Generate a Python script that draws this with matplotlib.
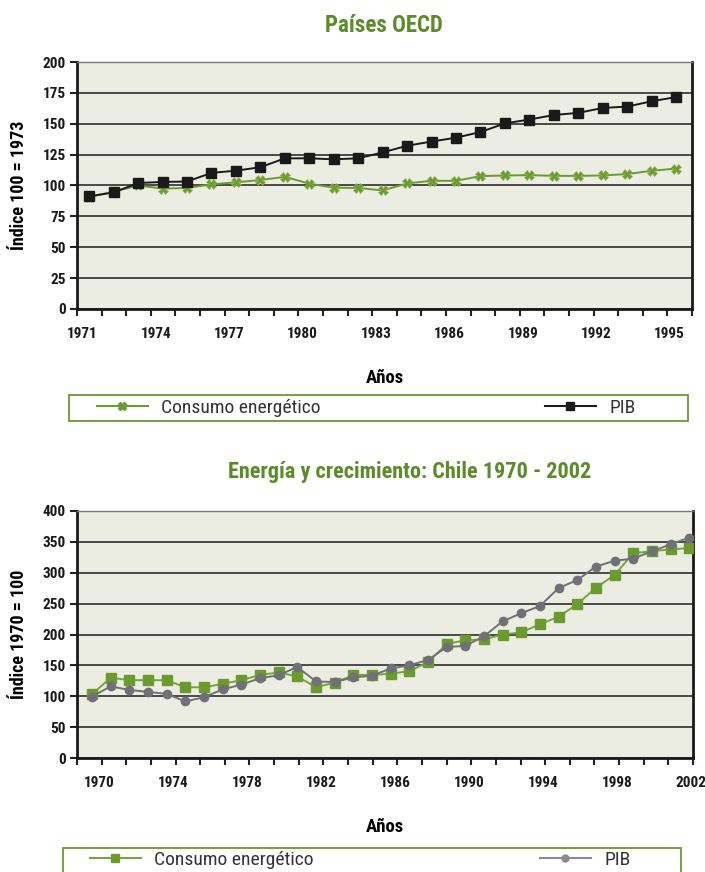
import matplotlib
matplotlib.use('Agg')
import matplotlib.pyplot as plt
import numpy as np
from matplotlib import font_manager
from matplotlib.patches import Rectangle
from matplotlib.lines import Line2D

# Países OECD (índice 100 = 1973)
oecd_years = list(range(1971, 1996))
oecd_consumo = [90.7, 95, 100, 97.5, 98, 100.9, 102.6, 104.4, 107, 101.5, 98.2, 98, 96,
                101.7, 103.8, 103.8, 107.6, 108.1, 108.4, 107.8, 107.8, 108.1, 109.3, 111.9, 113.7]
oecd_pib = [91.2, 94.4, 102, 102.9, 103.2, 110.2, 112, 114.8, 122, 122, 121.2, 122, 126.8,
            132.2, 135.6, 138.7, 143.3, 150.3, 153.4, 157.1, 158.8, 162.8, 163.9, 168.2, 171.6]
oecd_labels = [1971, 1974, 1977, 1980, 1983, 1986, 1989, 1992, 1995]

# Chile 1970 - 2002 (índice 1970 = 100)
chile_years = list(range(1970, 2003))
chile_consumo = [103, 130, 126, 126, 126, 114.5, 114.5, 120, 126, 134.5,
                 138.5, 132, 114.7, 121.8, 134.5, 134.5, 136.5, 140.7, 155, 184.5,
                 190.8, 192, 200, 203.4, 216.7, 228.7, 249, 275.8, 296.4, 331.8,
                 334.7, 338, 339.8]
chile_pib = [99.5, 116, 110.3, 107, 104, 91.5, 98.5, 111, 118.8, 129.2,
             134, 147.5, 124, 123, 130.5, 133.3, 145, 150, 158.7, 179.6,
             181.6, 197, 221.3, 234.5, 246, 275.3, 288.1, 310, 319.5, 322.9,
             334.7, 346, 357]
chile_labels = [1970, 1974, 1978, 1982, 1986, 1990, 1994, 1998, 2002]

GREEN = '#6b9a2f'
TITLE_GREEN = '#5c8c2a'
BG = '#ecede2'

# pick a narrow face if one is installed, otherwise shrink the text a little
installed = {f.name for f in font_manager.fontManager.ttflist}
narrow = [n for n in ['Liberation Sans Narrow', 'DejaVu Sans Condensed', 'Roboto Condensed']
          if n in installed]
if narrow:
    plt.rcParams['font.family'] = [narrow[0], 'DejaVu Sans']
    k = 1.0
else:
    plt.rcParams['font.family'] = ['DejaVu Sans']
    k = 0.84

fig = plt.figure(figsize=(7.05, 8.72), dpi=100)
W, H = 705, 872


def px_axes(left, top, right, bottom):
    return fig.add_axes([left / W, 1 - bottom / H, (right - left) / W, (bottom - top) / H])


def style_axes(ax, xlim, ymax, ystep, labels, label_pos, ylabel):
    ax.set_facecolor(BG)
    ax.set_xlim(*xlim)
    ax.set_ylim(0, ymax)
    ax.set_yticks(np.arange(0, ymax + 1, ystep))
    ax.grid(axis='y', color='#2e2e2e', linewidth=1.2, zorder=0)
    ax.set_axisbelow(True)
    # tick marks: 25 equal intervals along the category axis
    ax.set_xticks(np.linspace(xlim[0], xlim[1], 26))
    ax.set_xticklabels([])
    ax.set_xticks(label_pos, minor=True)
    ax.set_xticklabels([str(y) for y in labels], minor=True)
    ax.tick_params(axis='x', which='major', direction='out', length=5, width=1.5, color='#222222')
    ax.tick_params(axis='x', which='minor', length=0, pad=13, labelsize=11 * k)
    ax.tick_params(axis='y', direction='out', length=5, width=1.5, color='#222222',
                   labelsize=11 * k, pad=3)
    for lab in ax.get_xticklabels(minor=True) + ax.get_yticklabels():
        lab.set_fontweight('bold')
        lab.set_color('#1a1a1a')
    for side in ['left', 'bottom', 'right']:
        ax.spines[side].set_linewidth(2)
        ax.spines[side].set_color('#1a1a1a')
    ax.spines['top'].set_linewidth(1)
    ax.spines['top'].set_color('#777777')
    ax.set_ylabel(ylabel, fontsize=13 * k, fontweight='bold')
    ax.yaxis.set_label_coords(-0.08, 0.5)
    ax.set_xlabel('Años', fontsize=13.5 * k, fontweight='bold', labelpad=20)


def draw_legend(h1, h2, box, x1, x2, yc):
    left, top, right, bottom = box
    fig.add_artist(Rectangle((left / W, 1 - bottom / H), (right - left) / W, (bottom - top) / H,
                             transform=fig.transFigure, fill=False, edgecolor=GREEN, linewidth=1.3))
    for h, lbl, x in [(h1, 'Consumo energético', x1), (h2, 'PIB', x2)]:
        fig.legend(handles=[h], labels=[lbl], loc='center left', bbox_to_anchor=(x / W, 1 - yc / H),
                   frameon=False, fontsize=14 * k, handlelength=2.6 / k, handletextpad=0.7,
                   borderpad=0, borderaxespad=0, labelcolor='#333333')


# ---- Países OECD ----
ax1 = px_axes(77, 62, 692, 309)
c1, = ax1.plot(oecd_years, oecd_consumo, color=GREEN, linewidth=1.4, marker='X',
               markersize=7, markerfacecolor=GREEN, markeredgecolor='#8db55a', markeredgewidth=0.5,
               zorder=3, label='Consumo energético')
p1, = ax1.plot(oecd_years, oecd_pib, color='#1a1a1a', linewidth=1.4, marker='s',
               markersize=7, zorder=4, label='PIB')
style_axes(ax1, (1970.5, 1995.65), 200, 25, oecd_labels,
           [y - 0.27 for y in oecd_labels], 'Índice 100 = 1973')
fig.text(384 / W, 1 - 26 / H, 'Países OECD', ha='center', va='center', fontsize=16.5 * k,
         fontweight='bold', color=TITLE_GREEN)

# ---- Chile ----
ax2 = px_axes(77, 511, 693, 758)
c2, = ax2.plot(chile_years, chile_consumo, color='#7aa33f', linewidth=1.4, marker='s',
               markersize=7, markerfacecolor=GREEN, markeredgecolor=GREEN, zorder=3,
               label='Consumo energético')
p2, = ax2.plot(chile_years, chile_pib, color='#707078', linewidth=1.4, marker='o',
               markersize=6, markerfacecolor='#707078', markeredgecolor='#707078', zorder=4,
               label='PIB')
style_axes(ax2, (1969.2, 2002.2), 400, 50, chile_labels,
           [y + 0.4 - 0.01 * (y - 1970) for y in chile_labels], 'Índice 1970 = 100')
fig.text(410 / W, 1 - 472 / H, 'Energía y crecimiento: Chile 1970 - 2002', ha='center',
         va='center', fontsize=16 * k, fontweight='bold', color=TITLE_GREEN)

h_c1 = Line2D([], [], color=GREEN, linewidth=1.5, marker='X', markersize=5.5, markerfacecolor=GREEN)
h_p1 = Line2D([], [], color='#1a1a1a', linewidth=1.5, marker='s', markersize=6)
h_c2 = Line2D([], [], color='#7aa33f', linewidth=1.5, marker='s', markersize=6,
              markerfacecolor=GREEN, markeredgecolor=GREEN)
h_p2 = Line2D([], [], color='#8a8a8f', linewidth=1.5, marker='o', markersize=5,
              markerfacecolor='#8a8a8f', markeredgecolor='#8a8a8f')

draw_legend(h_c1, h_p1, (69, 395, 688, 421), 97, 545, 408)
draw_legend(h_c2, h_p2, (63, 848, 681, 880), 90, 540, 860)

fig.savefig('out.png', dpi=100)
